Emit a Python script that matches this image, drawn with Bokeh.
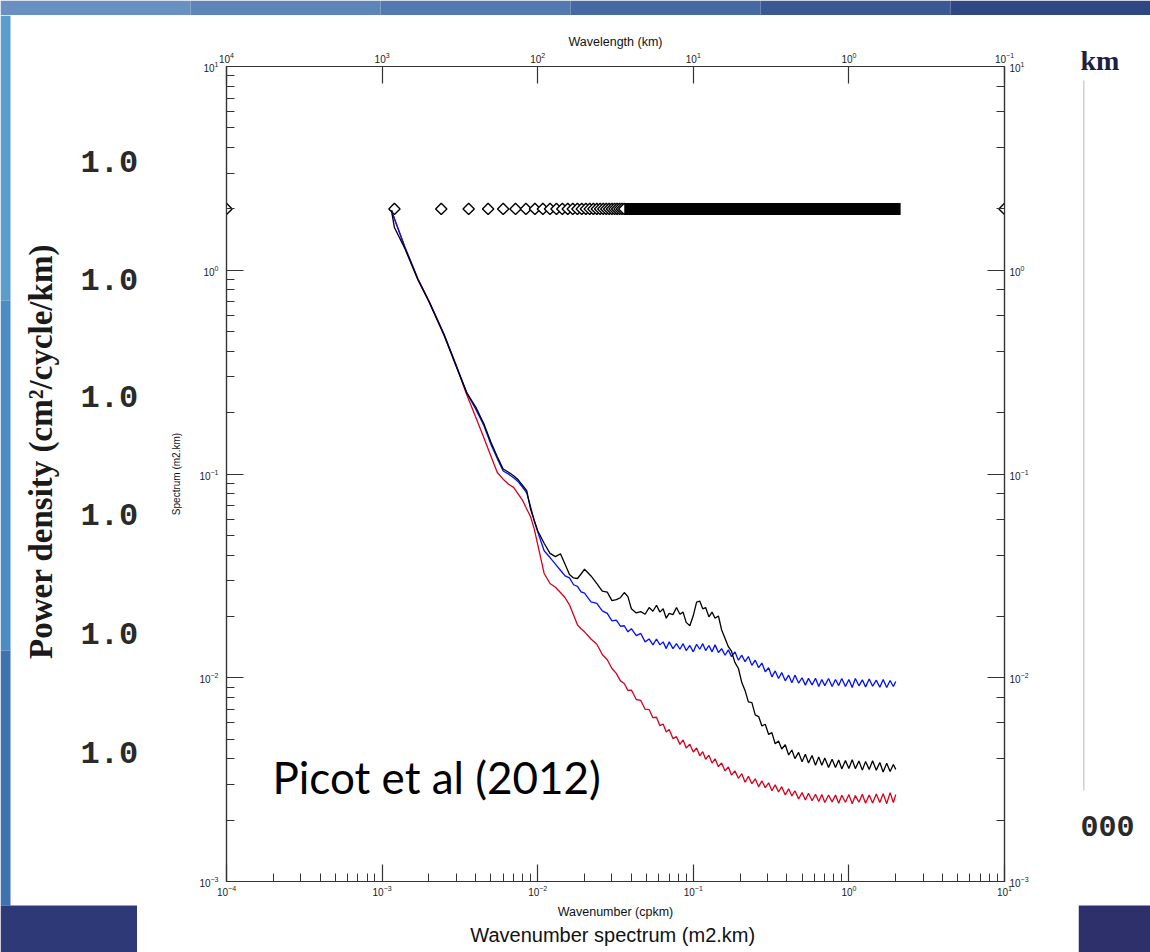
import math
from bokeh.plotting import figure
from bokeh.layouts import column, row
from bokeh.models import Range1d, LogAxis, LogScale, Label, Title, ColumnDataSource
from bokeh.core.properties import value
from bokeh.embed import file_html
from bokeh.resources import INLINE

# ---------------- data ----------------
wavenumber = [
    0.00115, 0.0012, 0.0014, 0.0017, 0.002, 0.0025, 0.003, 0.0035, 0.004, 0.0045,
    0.005, 0.0055, 0.006, 0.0065, 0.007, 0.0075, 0.008, 0.0085, 0.009, 0.0095,
    0.010, 0.011, 0.012, 0.013, 0.014, 0.015, 0.016, 0.017, 0.018, 0.019,
    0.020, 0.022, 0.024, 0.026, 0.028, 0.030, 0.032, 0.034, 0.036, 0.038,
    0.040, 0.043, 0.046, 0.049, 0.052, 0.055, 0.058, 0.061, 0.064, 0.067,
    0.070, 0.074, 0.078, 0.082, 0.086, 0.090, 0.095, 0.100, 0.105, 0.110,
    0.115, 0.120, 0.126, 0.132, 0.138, 0.145, 0.152, 0.160, 0.168, 0.176,
    0.185, 0.195, 0.205, 0.215, 0.226, 0.238, 0.250, 0.263, 0.276, 0.290,
    0.305, 0.320, 0.336, 0.353, 0.370, 0.390, 0.410, 0.430, 0.450, 0.475,
    0.500, 0.525, 0.550, 0.580, 0.610, 0.640, 0.670, 0.700, 0.740, 0.780,
    0.820, 0.860, 0.900, 0.950, 1.00, 1.05, 1.10, 1.16, 1.22, 1.28,
    1.35, 1.42, 1.50, 1.58, 1.66, 1.75, 1.84, 1.93, 2.00]

spectrum_blue = [
    1.97, 1.79, 1.30, 0.905, 0.706, 0.485, 0.340, 0.251, 0.208, 0.1735,
    0.140, 0.119, 0.1034, 0.0998, 0.0958, 0.0916, 0.0861, 0.0808, 0.0692, 0.0587,
    0.0521, 0.0420, 0.0389, 0.0361, 0.0337, 0.0316, 0.0309, 0.0286, 0.0281, 0.0264,
    0.0260, 0.0236, 0.0232, 0.0213, 0.0207, 0.0190, 0.0192, 0.0179, 0.0180, 0.0168,
    0.0174, 0.0161, 0.0165, 0.0150, 0.0155, 0.0145, 0.0155, 0.0145, 0.0150, 0.0139,
    0.0150, 0.0139, 0.0147, 0.0138, 0.0147, 0.0136, 0.0144, 0.0134, 0.0146, 0.0138,
    0.0147, 0.0136, 0.0144, 0.0134, 0.0145, 0.0133, 0.0139, 0.0129, 0.0137, 0.0127,
    0.0134, 0.0122, 0.0129, 0.0120, 0.0127, 0.0115, 0.0122, 0.0112, 0.0118, 0.0107,
    0.0112, 0.0101, 0.0108, 0.00992, 0.0106, 0.00966, 0.0103, 0.00944, 0.0103, 0.00942,
    0.0100, 0.00920, 0.00993, 0.00922, 0.00995, 0.00906, 0.00980, 0.00915, 0.00992, 0.00906,
    0.00980, 0.00915, 0.00992, 0.00906, 0.00980, 0.00896, 0.00992, 0.00913, 0.00977, 0.00902,
    0.00985, 0.00909, 0.00973, 0.00898, 0.00981, 0.00896, 0.00970, 0.00906, 0.00959]

spectrum_black = [
    1.95, 1.62, 1.28, 0.895, 0.700, 0.480, 0.336, 0.250, 0.213, 0.177,
    0.1436, 0.1216, 0.1058, 0.102, 0.0980, 0.0936, 0.0880, 0.0828, 0.0671, 0.0594,
    0.0527, 0.0457, 0.0408, 0.0393, 0.0406, 0.0361, 0.0321, 0.0309, 0.0307, 0.0323,
    0.0341, 0.0316, 0.0290, 0.0266, 0.0263, 0.0239, 0.0242, 0.0247, 0.0262, 0.0250,
    0.0218, 0.0208, 0.0211, 0.0205, 0.0221, 0.0212, 0.0227, 0.0210, 0.0218, 0.0196,
    0.0207, 0.0204, 0.0221, 0.0205, 0.0210, 0.0187, 0.0180, 0.0202, 0.0235, 0.0238,
    0.0218, 0.0221, 0.0199, 0.0210, 0.0196, 0.0201, 0.0172, 0.0156, 0.0142, 0.0135,
    0.0119, 0.0111, 0.00947, 0.00867, 0.00761, 0.00755, 0.00657, 0.00645, 0.00580, 0.00591,
    0.00527, 0.00538, 0.00474, 0.00489, 0.00447, 0.00469, 0.00418, 0.00442, 0.00401, 0.00430,
    0.00387, 0.00421, 0.00382, 0.00415, 0.00372, 0.00409, 0.00372, 0.00404, 0.00363, 0.00398,
    0.00363, 0.00395, 0.00357, 0.00392, 0.00359, 0.00396, 0.00358, 0.00390, 0.00352, 0.00388,
    0.00355, 0.00391, 0.00352, 0.00384, 0.00345, 0.00381, 0.00347, 0.00375, 0.00355]

spectrum_red = [
    1.97, 1.79, 1.30, 0.905, 0.706, 0.485, 0.340, 0.245, 0.190, 0.151,
    0.1226, 0.1017, 0.0943, 0.0890, 0.0860, 0.0796, 0.0742, 0.0673, 0.0617, 0.0538,
    0.0451, 0.0325, 0.0290, 0.0278, 0.0262, 0.0247, 0.0228, 0.0203, 0.0182, 0.0174,
    0.0168, 0.0155, 0.0146, 0.0130, 0.01225, 0.0111, 0.0105, 0.00965, 0.00937, 0.00867,
    0.00870, 0.00782, 0.00774, 0.00701, 0.00698, 0.00637, 0.00640, 0.00582, 0.00593, 0.00542,
    0.00557, 0.00503, 0.00514, 0.00471, 0.00495, 0.00452, 0.00472, 0.00432, 0.00452, 0.00414,
    0.00434, 0.00398, 0.00417, 0.00381, 0.00400, 0.00366, 0.00382, 0.00349, 0.00365, 0.00333,
    0.00349, 0.00321, 0.00338, 0.00307, 0.00328, 0.00302, 0.00319, 0.00292, 0.00312, 0.00289,
    0.00305, 0.00279, 0.00298, 0.00275, 0.00292, 0.00266, 0.00285, 0.00263, 0.00279, 0.00254,
    0.00273, 0.00251, 0.00271, 0.00249, 0.00268, 0.00247, 0.00267, 0.00244, 0.00266, 0.00246,
    0.00266, 0.00242, 0.00265, 0.00245, 0.00267, 0.00241, 0.00264, 0.00245, 0.00268, 0.00242,
    0.00266, 0.00243, 0.00269, 0.00244, 0.00270, 0.00241, 0.00273, 0.00244, 0.00267]

# wavelength markers (diamonds) along the top of the spectra
harmonic_k = [
    0.0012, 0.0024, 0.0036, 0.0048, 0.0060, 0.0072, 0.0084, 0.0096, 0.0108, 0.0120,
    0.0132, 0.0144, 0.0156, 0.0168, 0.0180, 0.0192, 0.0204, 0.0216, 0.0228, 0.0240,
    0.0252, 0.0264, 0.0276, 0.0288, 0.0300, 0.0312, 0.0324, 0.0336, 0.0348, 0.0360]
harmonic_band_k = [0.036, 2.15]      # markers merge into a solid band
edge_marker_k = [1e-4, 1e1]          # half-visible markers on the frame edges
marker_level = 2.0

left_values = ["1.0", "1.0", "1.0", "1.0", "1.0", "1.0"]

SVG = "svg"


def deco_fig(w, h, x0, x1, y0, y1):
    f = figure(width=w, height=h, x_range=Range1d(x0, x1), y_range=Range1d(y1, y0),
               min_border=0, toolbar_location=None, output_backend=SVG,
               x_axis_location=None, y_axis_location=None, outline_line_color=None,
               background_fill_color="white", border_fill_color="white",
               frame_align=False)
    f.grid.visible = False
    return f


# ---------------- top band of the slide ----------------
top = deco_fig(1150, 15, 0, 1150, 0, 15)
top.quad(left=[0, 190, 380, 570, 760, 950], right=[190, 380, 570, 760, 950, 1150],
         top=[0] * 6, bottom=[15] * 6,
         fill_color=["#6890c0", "#5d85b8", "#5279b0", "#4669a4", "#3a5894", "#2f4684"],
         line_color=None)

# ---------------- left part of the slide ----------------
left = deco_fig(137, 937, 0, 137, 15, 952)
left.quad(left=[0, 0, 0, 0], right=[10, 10, 10, 137], top=[15, 300, 650, 905],
          bottom=[300, 650, 905, 952],
          fill_color=["#5a9ccb", "#4b8cc2", "#3f72b0", "#2e3a78"], line_color=None)
left.text(x=[40], y=[451], text=["Power density (cm²/cycle/km)"], angle=math.pi / 2,
          text_align="center", text_baseline="middle",
          text_font=value("Liberation Serif"), text_font_style="bold",
          text_font_size="33px", text_color="#1a1a1a")
left.text(x=[80] * 6, y=[161, 279, 396, 514, 633, 752], text=left_values,
          text_align="left", text_baseline="middle",
          text_font=value("Liberation Mono"), text_font_style="bold",
          text_font_size="32px", text_color="#2a2a2a")

# ---------------- right part of the slide ----------------
right = deco_fig(72, 937, 1078, 1150, 15, 952)
right.quad(left=[1082.5, 1078], right=[1084, 1150], top=[80, 905], bottom=[790, 952],
           fill_color=["#d0d0d0", "#2d306a"], line_color=None)
right.text(x=[1080], y=[60], text=["km"], text_align="left", text_baseline="middle",
           text_font=value("Liberation Serif"), text_font_style="bold",
           text_font_size="28px", text_color="#1c2140")
right.text(x=[1080], y=[825], text=["000"], text_align="left", text_baseline="middle",
           text_font=value("Liberation Mono"), text_font_style="bold",
           text_font_size="30px", text_color="#2a2a2a")

# ---------------- the spectrum chart ----------------
p = figure(width=941, height=937, x_axis_type="log", y_axis_type="log",
           x_range=Range1d(1e-4, 1e1), y_range=Range1d(1e-3, 1e1),
           output_backend=SVG, toolbar_location=None,
           min_border_left=89, min_border_right=74,
           min_border_top=51, min_border_bottom=71,
           background_fill_color="white", border_fill_color="white",
           outline_line_color="#333333", outline_line_width=1.2,
           frame_align=False)
p.grid.visible = False

p.extra_x_ranges = {"wl": Range1d(1e4, 1e-1)}
p.extra_x_scales = {"wl": LogScale()}
top_axis = LogAxis(x_range_name="wl", axis_label="Wavelength (km)")
p.add_layout(top_axis, "above")
right_axis = LogAxis()
p.add_layout(right_axis, "right")

bottom_axis = p.below[0]
left_axis = p.left[0]
bottom_axis.axis_label = "Wavenumber (cpkm)"
left_axis.axis_label = "Spectrum (m2.km)"

for ax in [bottom_axis, left_axis, top_axis, right_axis]:
    ax.major_tick_in = 17
    ax.major_tick_out = 0
    ax.minor_tick_in = 8
    ax.minor_tick_out = 0
    ax.axis_line_color = "#333333"
    ax.axis_line_width = 1.2
    ax.major_tick_line_color = "#333333"
    ax.minor_tick_line_color = "#333333"
    ax.major_tick_line_width = 1.2
    ax.minor_tick_line_width = 1.0
    ax.major_label_text_font = "Liberation Sans"
    ax.major_label_text_font_size = "10px"
    ax.major_label_text_color = "#222222"
    ax.axis_label_text_font = "Liberation Sans"
    ax.axis_label_text_font_style = "normal"
    ax.axis_label_text_font_size = "12.5px"
    ax.axis_label_text_color = "#111111"

top_axis.minor_tick_in = 0
top_axis.major_label_standoff = 4
top_axis.axis_label_standoff = 0
bottom_axis.major_label_standoff = 3
bottom_axis.axis_label_standoff = 6
left_axis.major_label_standoff = 8
left_axis.axis_label_standoff = 14
left_axis.axis_label_text_font_size = "10px"
right_axis.major_label_standoff = 5

p.add_layout(Title(text="Wavenumber  spectrum (m2.km)", align="center",
                   text_font="Liberation Sans", text_font_style="normal",
                   text_font_size="20px", text_color="#111111", standoff=0,
                   offset=7), "below")

# markers
p.scatter(harmonic_k, [marker_level] * len(harmonic_k), marker="square",
          angle=0.785398, size=8, fill_color="white", line_color="black", line_width=1.4)
p.line(harmonic_band_k, [marker_level] * len(harmonic_band_k), line_width=12,
       line_color="black", line_cap="butt")
p.scatter(edge_marker_k, [marker_level] * len(edge_marker_k), marker="square",
          angle=0.785398, size=8, fill_color="white", line_color="black", line_width=1.4)

src = ColumnDataSource(dict(k=wavenumber, red=spectrum_red, blue=spectrum_blue,
                            black=spectrum_black))
p.line("k", "red", source=src, line_color="#d4001e", line_width=1.3)
p.line("k", "blue", source=src, line_color="#0010ff", line_width=1.3)
p.line("k", "black", source=src, line_color="black", line_width=1.3)

p.add_layout(Label(x=135, y=761, x_units="canvas", y_units="canvas",
                   text="Picot et al (2012)", text_font="Lato", text_font_size="44px",
                   text_color="#000000", text_baseline="middle"))

layout = column(top, row(left, p, right))
open("out.html", "w").write(file_html(layout, INLINE))
